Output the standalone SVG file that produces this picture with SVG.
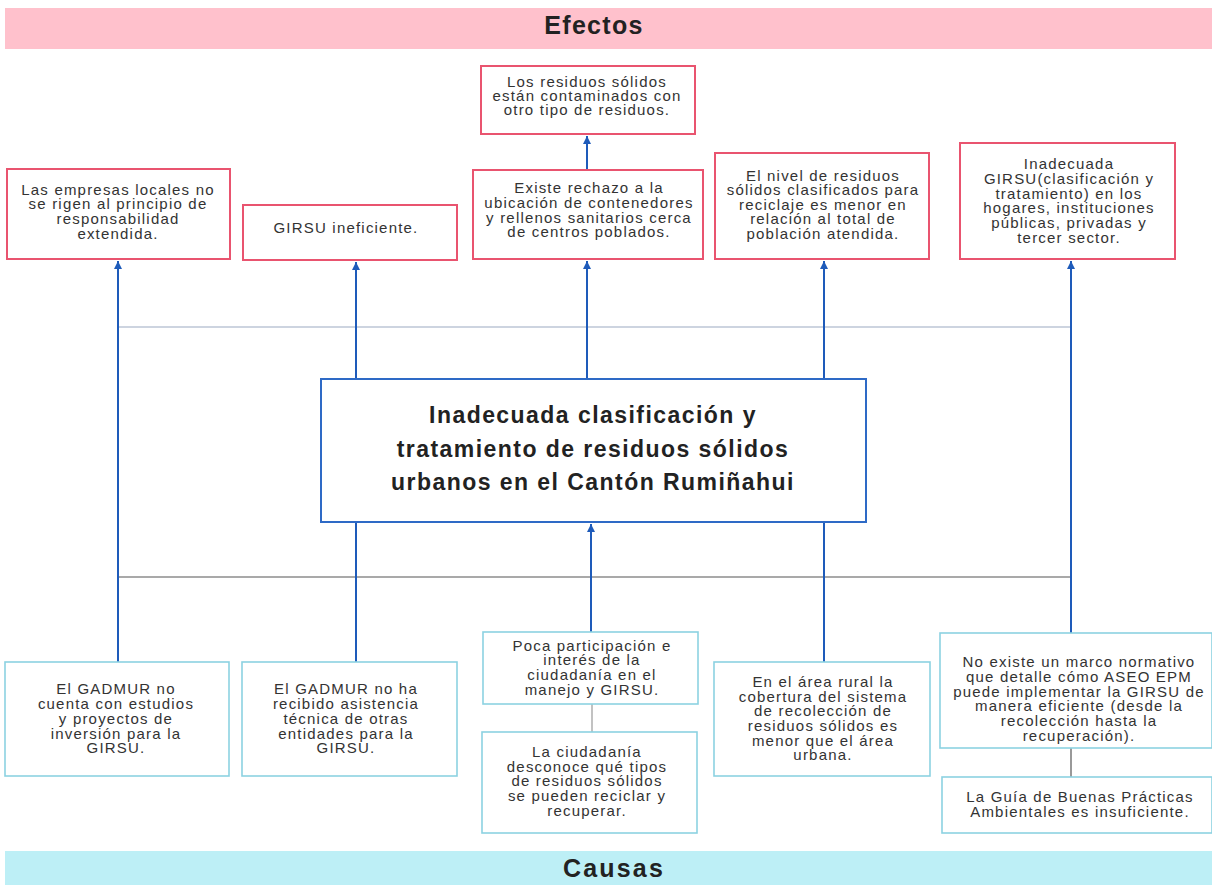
<svg xmlns="http://www.w3.org/2000/svg" width="1212" height="885" viewBox="0 0 1212 885">
<style>
.eff{fill:#fff;stroke:#E9546F;stroke-width:2}
.cau{fill:#fff;stroke:#8CD2E2;stroke-width:1.6}
.t{font-family:"Liberation Sans",Arial,sans-serif;font-size:15px;fill:#333;text-anchor:middle;letter-spacing:1.2px}
.title{font-family:"Liberation Sans",Arial,sans-serif;font-size:23px;font-weight:bold;fill:#222;text-anchor:middle;letter-spacing:1.45px}
.band{font-family:"Liberation Sans",Arial,sans-serif;font-size:25px;font-weight:bold;fill:#222;text-anchor:middle;letter-spacing:1.3px}
.blue{stroke:#1E5BBA;stroke-width:2;fill:none}
</style>
<defs>
<marker id="ah" viewBox="0 0 10 10" refX="10" refY="5" markerWidth="4" markerHeight="4" orient="auto">
<path d="M0,0 L10,5 L0,10 z" fill="#1E5BBA"/>
</marker>
</defs>
<rect width="1212" height="885" fill="#fff"/>
<g id="band-efectos">
<rect x="5" y="8" width="1207" height="41" fill="#FFC1CC"/>
<text class="band" x="594" y="34">Efectos</text>
</g>
<g id="band-causas">
<rect x="5" y="851" width="1207" height="34" fill="#BDEFF6"/>
<text class="band" x="614" y="877" style="letter-spacing:2.2px">Causas</text>
</g>
<g id="connectors">
<line x1="118" y1="327" x2="1071" y2="327" stroke="#BCC6D6" stroke-width="1.5"/>
<line x1="118" y1="577" x2="1071" y2="577" stroke="#555" stroke-width="1.2"/>
<line class="blue" x1="118" y1="662" x2="118" y2="261" marker-end="url(#ah)"/>
<line class="blue" x1="356" y1="379" x2="356" y2="262" marker-end="url(#ah)"/>
<line class="blue" x1="587" y1="379" x2="587" y2="261" marker-end="url(#ah)"/>
<line class="blue" x1="824" y1="379" x2="824" y2="261" marker-end="url(#ah)"/>
<line class="blue" x1="1071" y1="633" x2="1071" y2="261" marker-end="url(#ah)"/>
<line class="blue" x1="587" y1="170" x2="587" y2="136" marker-end="url(#ah)"/>
<line class="blue" x1="356" y1="522" x2="356" y2="662"/>
<line class="blue" x1="824" y1="522" x2="824" y2="662"/>
<line class="blue" x1="591" y1="632" x2="591" y2="524" marker-end="url(#ah)"/>
<line x1="592" y1="704" x2="592" y2="732" stroke="#999" stroke-width="1.2"/>
<line x1="1071" y1="748" x2="1071" y2="777" stroke="#555" stroke-width="1.2"/>
</g>
<g id="central">
<rect x="321" y="379" width="545" height="143" fill="#fff" stroke="#2E6AC6" stroke-width="2"/>
<text class="title" x="593" y="423">Inadecuada clasificación y</text>
<text class="title" x="593" y="457">tratamiento de residuos sólidos</text>
<text class="title" x="593" y="490">urbanos en el Cantón Rumiñahui</text>
</g>
<g id="effect-1">
<rect class="eff" x="7" y="169" width="223" height="90"/>
<text class="t" x="118" y="195">Las empresas locales no</text>
<text class="t" x="118" y="209">se rigen al principio de</text>
<text class="t" x="118" y="224">responsabilidad</text>
<text class="t" x="118" y="239">extendida.</text>
</g>
<g id="effect-2">
<rect class="eff" x="243" y="205" width="214" height="55"/>
<text class="t" x="346" y="233">GIRSU ineficiente.</text>
</g>
<g id="effect-3a">
<rect class="eff" x="481" y="66" width="214" height="68"/>
<text class="t" x="587" y="87">Los residuos sólidos</text>
<text class="t" x="587" y="101">están contaminados con</text>
<text class="t" x="587" y="115">otro tipo de residuos.</text>
</g>
<g id="effect-3">
<rect class="eff" x="473" y="170" width="230" height="89"/>
<text class="t" x="589" y="193">Existe rechazo a la</text>
<text class="t" x="589" y="208">ubicación de contenedores</text>
<text class="t" x="589" y="223">y rellenos sanitarios cerca</text>
<text class="t" x="589" y="237">de centros poblados.</text>
</g>
<g id="effect-4">
<rect class="eff" x="715" y="153" width="214" height="106"/>
<text class="t" x="823" y="181">El nivel de residuos</text>
<text class="t" x="823" y="195">sólidos clasificados para</text>
<text class="t" x="823" y="210">reciclaje es menor en</text>
<text class="t" x="823" y="224">relación al total de</text>
<text class="t" x="823" y="239">población atendida.</text>
</g>
<g id="effect-5">
<rect class="eff" x="960" y="143" width="215" height="116"/>
<text class="t" x="1069" y="169">Inadecuada</text>
<text class="t" x="1069" y="184">GIRSU(clasificación y</text>
<text class="t" x="1069" y="199">tratamiento) en los</text>
<text class="t" x="1069" y="213">hogares, instituciones</text>
<text class="t" x="1069" y="228">públicas, privadas y</text>
<text class="t" x="1069" y="243">tercer sector.</text>
</g>
<g id="cause-1">
<rect class="cau" x="5" y="662" width="224" height="114"/>
<text class="t" x="116" y="694">El GADMUR no</text>
<text class="t" x="116" y="709">cuenta con estudios</text>
<text class="t" x="116" y="724">y proyectos de</text>
<text class="t" x="116" y="739">inversión para la</text>
<text class="t" x="116" y="753">GIRSU.</text>
</g>
<g id="cause-2">
<rect class="cau" x="242" y="662" width="215" height="114"/>
<text class="t" x="346" y="694">El GADMUR no ha</text>
<text class="t" x="346" y="709">recibido asistencia</text>
<text class="t" x="346" y="724">técnica de otras</text>
<text class="t" x="346" y="739">entidades para la</text>
<text class="t" x="346" y="753">GIRSU.</text>
</g>
<g id="cause-3">
<rect class="cau" x="483" y="632" width="215" height="72"/>
<text class="t" x="592" y="651">Poca participación e</text>
<text class="t" x="592" y="665">interés de la</text>
<text class="t" x="592" y="680">ciudadanía en el</text>
<text class="t" x="592" y="695">manejo y GIRSU.</text>
</g>
<g id="cause-3b">
<rect class="cau" x="482" y="732" width="215" height="101"/>
<text class="t" x="587" y="757">La ciudadanía</text>
<text class="t" x="587" y="772">desconoce qué tipos</text>
<text class="t" x="587" y="786">de residuos sólidos</text>
<text class="t" x="587" y="801">se pueden reciclar y</text>
<text class="t" x="587" y="816">recuperar.</text>
</g>
<g id="cause-4">
<rect class="cau" x="714" y="662" width="216" height="114"/>
<text class="t" x="823" y="687">En el área rural la</text>
<text class="t" x="823" y="702">cobertura del sistema</text>
<text class="t" x="823" y="716">de recolección de</text>
<text class="t" x="823" y="731">residuos sólidos es</text>
<text class="t" x="823" y="746">menor que el área</text>
<text class="t" x="823" y="760">urbana.</text>
</g>
<g id="cause-5">
<rect class="cau" x="940" y="633" width="272" height="115"/>
<text class="t" x="1079" y="667">No existe un marco normativo</text>
<text class="t" x="1079" y="682">que detalle cómo ASEO EPM</text>
<text class="t" x="1079" y="697">puede implementar la GIRSU de</text>
<text class="t" x="1079" y="711">manera eficiente (desde la</text>
<text class="t" x="1079" y="726">recolección hasta la</text>
<text class="t" x="1079" y="741">recuperación).</text>
</g>
<g id="cause-5b">
<rect class="cau" x="942" y="777" width="270" height="56"/>
<text class="t" x="1080" y="802">La Guía de Buenas Prácticas</text>
<text class="t" x="1080" y="817">Ambientales es insuficiente.</text>
</g>
</svg>
